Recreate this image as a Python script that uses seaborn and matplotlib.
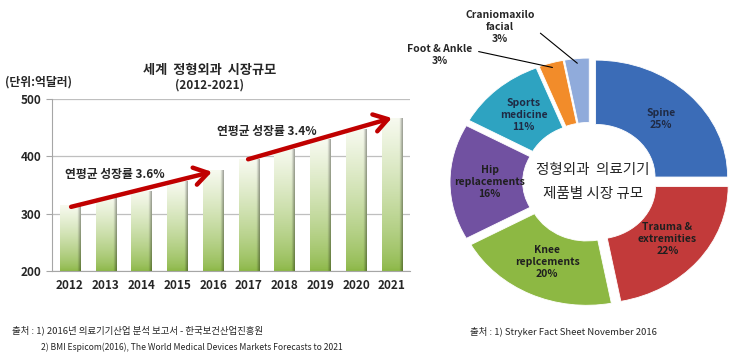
import numpy as np
import pandas as pd
import matplotlib
matplotlib.use("Agg")
import matplotlib.pyplot as plt
import seaborn as sns

sns.set_style("white")
plt.rcParams['font.family'] = ['Noto Sans CJK KR', 'DejaVu Sans']

# data
years = ['2012', '2013', '2014', '2015', '2016', '2017', '2018', '2019', '2020', '2021']
market = [315, 330, 340, 357, 377, 395, 413, 430, 448, 467]

segments = ['Spine', 'Trauma &\nextremities', 'Knee\nreplcements', 'Hip\nreplacements',
            'Sports\nmedicine', 'Foot & Ankle', 'Craniomaxilo\nfacial']
shares = [25, 22, 20, 16, 11, 3, 3]
seg_colors = ['#3B6CB7', '#C23A3A', '#8DB843', '#7151A1', '#2EA3C1', '#F28C2A', '#90ABDB']

fig = plt.figure(figsize=(7.45, 3.59), dpi=100)

# ---------------- bar chart ----------------
ax = fig.add_axes([0.070, 0.245, 0.480, 0.479])
df = pd.DataFrame({'year': years, 'value': market})
sns.barplot(data=df, x='year', y='value', ax=ax, width=0.57, color='#9BC152')

# gradient fill clipped to each bar
v = np.linspace(0, 1, 64)[:, None]
u = np.linspace(0, 1, 32)[None, :]
green = np.array([0.55, 0.72, 0.28])
light = np.array([0.97, 0.98, 0.94])
t = v[..., None] ** 0.75
grad = green[None, None, :] * (1 - t) + light[None, None, :] * t
shade = 1 - 0.35 * np.clip((u - 0.84) / 0.16, 0, 1)
grad = np.clip(grad * shade[..., None], 0, 1)
for p in ax.patches:
    x0, w, h = p.get_x(), p.get_width(), p.get_height()
    im = ax.imshow(grad, extent=[x0, x0 + w, 200, p.get_y() + h], origin='lower',
                   aspect='auto', zorder=2)
    im.set_clip_path(p)
    p.set_facecolor('none')
    p.set_edgecolor('none')

ax.set_xlim(-0.5, len(years) - 0.5)
ax.set_ylim(200, 500)
ax.set_yticks([200, 300, 400, 500])
ax.yaxis.grid(True, color='#BFBFBF', lw=0.9)
ax.set_axisbelow(True)
for s in ['top', 'right']:
    ax.spines[s].set_visible(False)
for s in ['left', 'bottom']:
    ax.spines[s].set_color('#A6A6A6')
ax.set_xticks(np.arange(-0.5, len(years), 1.0), minor=True)
ax.tick_params(axis='x', which='major', length=0, pad=6)
ax.tick_params(axis='x', which='minor', length=4, color='#A6A6A6', direction='out')
ax.tick_params(axis='y', length=4, color='#A6A6A6', direction='out', left=True)
for lab in ax.get_xticklabels() + ax.get_yticklabels():
    lab.set_fontweight('bold')
    lab.set_fontsize(8.5)
ax.set_xlabel('')
ax.set_ylabel('')

arrow_kw = dict(arrowstyle='->, head_length=0.7, head_width=0.45', color='#C00000',
                lw=3.2, mutation_scale=14, shrinkA=0, shrinkB=0)
ax.annotate('', xy=(3.97, 373), xytext=(0.03, 312), arrowprops=arrow_kw, zorder=5)
ax.annotate('', xy=(9.0, 467), xytext=(4.98, 395), arrowprops=arrow_kw, zorder=5)
ax.text(1.25, 368, '연평균 성장률 3.6%', ha='center', va='center', fontsize=8.5, fontweight='bold')
ax.text(5.5, 444, '연평균 성장률 3.4%', ha='center', va='center', fontsize=8.5, fontweight='bold')

fig.text(210 / 745, 1 - 70 / 359, '세계  정형외과  시장규모', ha='center', va='center',
         fontsize=9.5, fontweight='bold')
fig.text(210 / 745, 1 - 85 / 359, '(2012-2021)', ha='center', va='center',
         fontsize=8.5, fontweight='bold')
fig.text(5 / 745, 1 - 82 / 359, '(단위:억달러)', ha='left', va='center',
         fontsize=8.5, fontweight='bold')

# ---------------- donut ----------------
pax = fig.add_axes([440 / 745, 1 - 327 / 359, 300 / 745, 290 / 359])
wedges, _ = pax.pie(shares, colors=seg_colors, startangle=90, counterclock=False,
                    explode=[0.06] * len(shares),
                    wedgeprops=dict(width=0.55, edgecolor='white', linewidth=0.6))
pax.set_aspect('auto')
pax.set_xlim(-1.136, 1.136)
pax.set_ylim(-1.24, 1.24)

txt_col = ['#1F2A44', '#1F1F1F', '#1F1F1F', '#1F1F1F', '#1F2A44']
for i, wdg in enumerate(wedges[:5]):
    ang = np.deg2rad((wdg.theta1 + wdg.theta2) / 2)
    r = 0.76
    pax.text(r * np.cos(ang), r * np.sin(ang), f'{segments[i]}\n{shares[i]}%',
             ha='center', va='center', fontsize=7.5, fontweight='bold',
             color=txt_col[i], linespacing=1.25)

for i, pos, rel in [(5, (-1.136, 1.085), (1.0, 0.72)), (6, (-0.68, 1.325), (1.0, 0.45))]:
    wdg = wedges[i]
    ang = np.deg2rad((wdg.theta1 + wdg.theta2) / 2)
    r = 1.02
    pax.annotate(f'{segments[i]}\n{shares[i]}%', xy=(r * np.cos(ang), r * np.sin(ang)),
                 xytext=pos, ha='center', va='center', fontsize=7.5, fontweight='bold',
                 annotation_clip=False, linespacing=1.25,
                 arrowprops=dict(arrowstyle='-', color='black', lw=0.8, relpos=rel,
                                 shrinkA=2, shrinkB=0))

pax.text(0.02, 0.10, '정형외과  의료기기', ha='center', va='center', fontsize=10.5)
pax.text(0.02, -0.10, '제품별 시장 규모', ha='center', va='center', fontsize=10.5)

# ---------------- sources ----------------
fig.text(12 / 745, 1 - 330 / 359, '출처 : 1) 2016년 의료기기산업 분석 보고서 - 한국보건산업진흥원',
         ha='left', va='center', fontsize=6.8)
fig.text(41 / 745, 1 - 347 / 359, '2) BMI Espicom(2016), The World Medical Devices Markets Forecasts to 2021',
         ha='left', va='center', fontsize=6.2)
fig.text(470 / 745, 1 - 332 / 359, '출처 : 1) Stryker Fact Sheet November 2016',
         ha='left', va='center', fontsize=6.8)

fig.savefig('out.png', dpi=100)
